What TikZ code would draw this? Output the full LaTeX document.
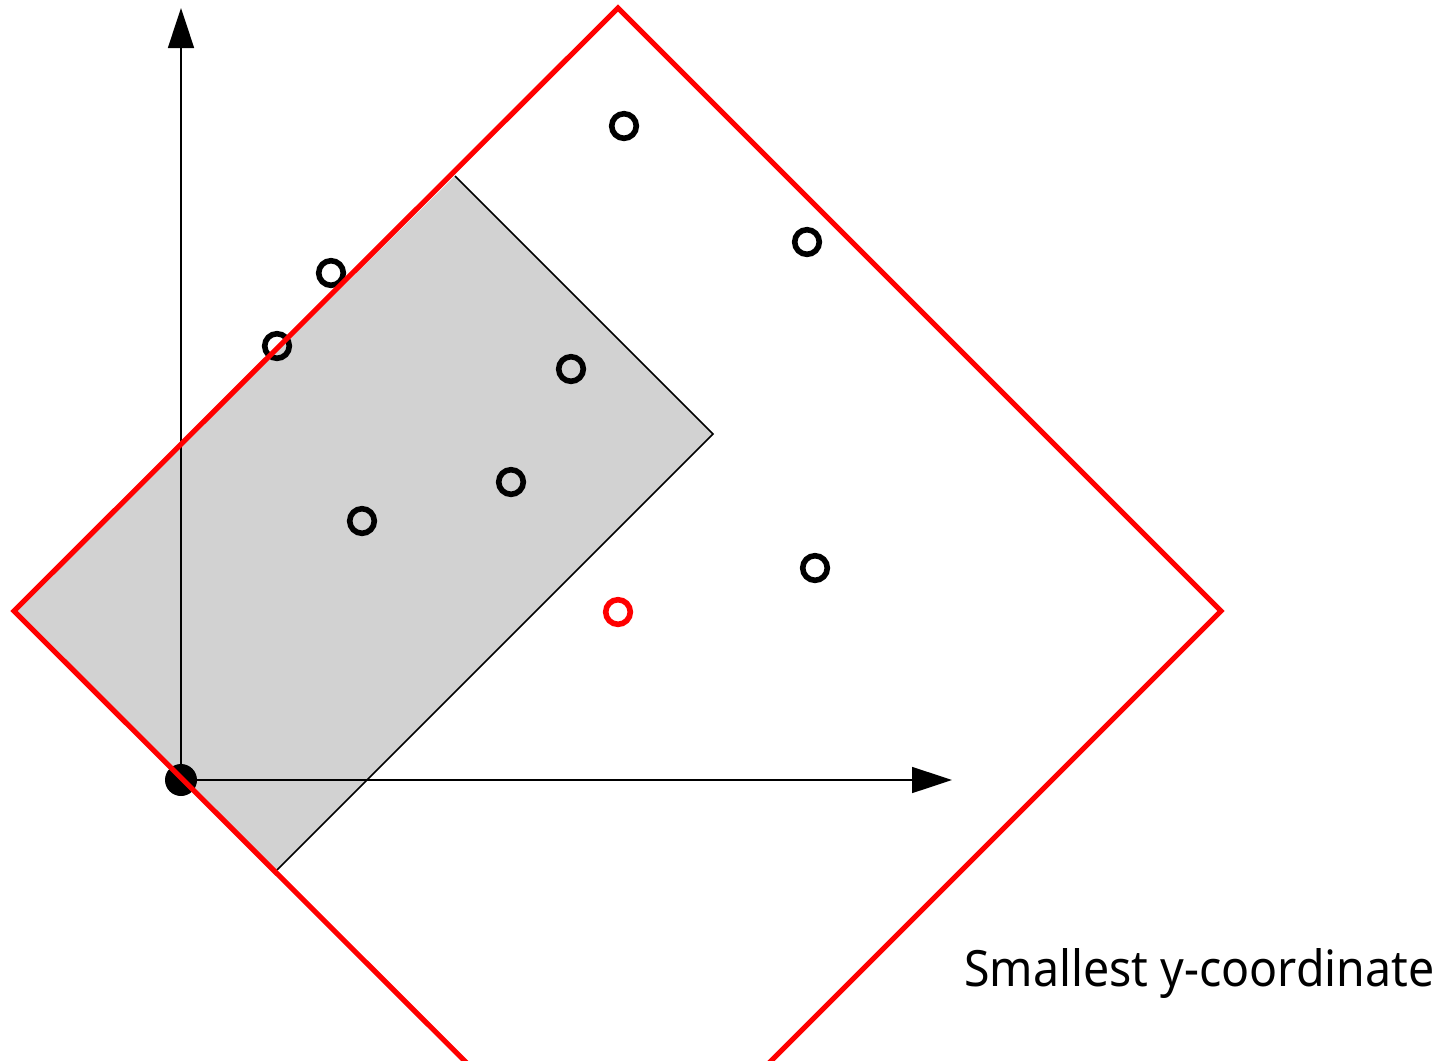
\documentclass[tikz,border=0pt]{standalone}
\usepackage{fontspec}
\setmainfont{Noto Sans}
\usetikzlibrary{arrows.meta}
\begin{document}
\begin{tikzpicture}[x=0.5pt,y=-0.5pt,
  pt/.style={circle,draw=black,line width=2.8pt,minimum size=12.3pt,inner sep=0pt},
  redpt/.style={pt,draw=red},
  axis/.style={line width=0.8pt,-{Triangle[length=20pt,width=13pt]}},
  hull/.style={red,line width=2.6pt,line join=miter},
]
\useasboundingbox (0,0) rectangle (1447,1061);
\begin{scope}
\clip (0,0) rectangle (1447,1061);
% gray rectangle
\coordinate (g1) at (14,611);
\coordinate (g2) at (455,176);
\coordinate (g3) at (713,434);
\coordinate (g4) at (277,870);
\fill[gray!35] (g1) -- (g2) -- (g3) -- (g4) -- cycle;
\draw[line width=0.8pt] (g2) -- (g3) -- (g4);
% axes
\node[circle,fill=black,minimum size=16pt,inner sep=0pt] (o) at (181,780) {};
\coordinate (ytip) at (181,8);
\coordinate (xtip) at (952,780);
\draw[axis] (o.center) -- (ytip);
\draw[axis] (o.center) -- (xtip);
% points
\node[pt] (p1) at (624,126) {};
\node[pt] (p2) at (807,242) {};
\node[pt] (p3) at (331,273) {};
\node[pt] (p4) at (277,346) {};
\node[pt] (p5) at (571,369) {};
\node[pt] (p6) at (511,482) {};
\node[pt] (p7) at (362,521) {};
\node[pt] (p8) at (815,568) {};
\node[redpt] (p9) at (618,612) {};
% red diamond
\coordinate (dt) at (618,8);
\coordinate (dr) at (1221,611);
\coordinate (db) at (618,1214);
\draw[hull] (db) -- (g1) -- (dt) -- (dr) -- cycle;
\end{scope}
\node[anchor=base west,inner sep=0pt] (lbl) at (964,986) {\resizebox{235pt}{19pt}{Smallest y-coordinate}};
\end{tikzpicture}
\end{document}
